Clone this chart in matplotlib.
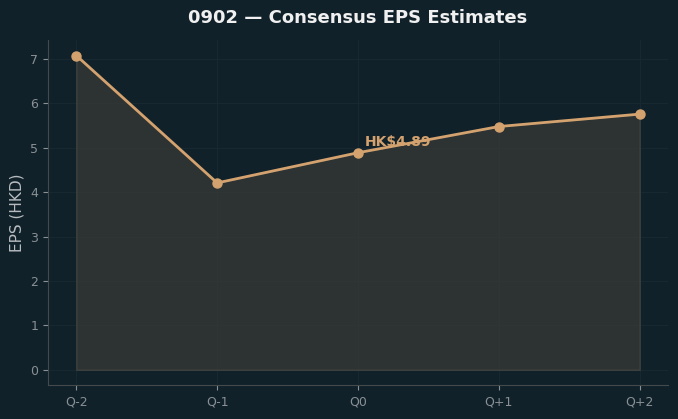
import matplotlib.pyplot as plt

BG = "#10212a"
LINE = "#d4a26f"

quarters = ["Q-2", "Q-1", "Q0", "Q+1", "Q+2"]
eps = [7.08, 4.21, 4.89, 5.48, 5.76]
current_label = "HK$4.89"
current_idx = 2

fig, ax = plt.subplots(figsize=(6.78, 4.19), dpi=100)
fig.patch.set_facecolor(BG)
ax.set_facecolor(BG)

x = list(range(len(quarters)))
ax.fill_between(x, eps, 0, color="#383a36", alpha=0.75, edgecolor="#474843", linewidth=1)
ax.plot(x, eps, color=LINE, linewidth=2, marker="o", markersize=6.5)

ax.annotate(current_label, (x[current_idx], eps[current_idx]), xytext=(5, 5),
            textcoords="offset points", color=LINE, fontsize=10, fontweight="bold")

ax.set_xticks(x)
ax.set_xticklabels(quarters)
ax.set_ylabel("EPS (HKD)", color="#b8bcbf", fontsize=11)
ax.set_title("0902 \u2014 Consensus EPS Estimates", color="#f0f0f0", fontsize=13,
             fontweight="bold", pad=12)

ax.grid(True, color="#182830", linewidth=0.8)
ax.set_axisbelow(True)
for s in ["top", "right"]:
    ax.spines[s].set_visible(False)
for s in ["left", "bottom"]:
    ax.spines[s].set_color("#444a4c")
ax.tick_params(colors="#8a9094", labelsize=9)

plt.subplots_adjust(left=0.071, right=0.985, top=0.905, bottom=0.08)
plt.savefig("out.png", facecolor=BG)
